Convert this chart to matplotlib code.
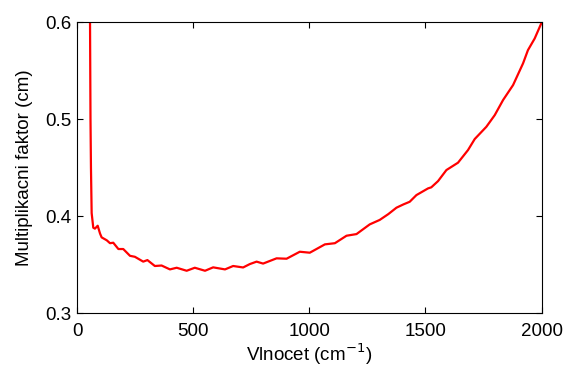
import matplotlib
matplotlib.use("Agg")
import matplotlib.pyplot as plt

# hodnoty
vlnocet = [56, 58, 60, 63, 70, 77, 89, 99, 106, 128, 142, 156, 178, 199, 228, 249,
           285, 303, 335, 364, 400, 429, 472, 507, 551, 586, 637, 672, 715, 744,
           773, 801, 859, 902, 959, 1002, 1067, 1110, 1160, 1203, 1260, 1303, 1340,
           1375, 1405, 1432, 1461, 1511, 1525, 1554, 1590, 1640, 1683, 1712, 1762,
           1798, 1834, 1877, 1920, 1941, 1970, 2001]
faktor = [0.600, 0.50, 0.45, 0.403, 0.388, 0.387, 0.390, 0.382, 0.378, 0.375, 0.372,
          0.3725, 0.366, 0.366, 0.359, 0.358, 0.353, 0.3546, 0.3485, 0.349, 0.345,
          0.3467, 0.3436, 0.3467, 0.3436, 0.3471, 0.345, 0.3485, 0.347, 0.3505,
          0.353, 0.351, 0.3564, 0.356, 0.3632, 0.3622, 0.3708, 0.372, 0.3797,
          0.3814, 0.3914, 0.396, 0.402, 0.4086, 0.412, 0.4147, 0.4216, 0.4285,
          0.4296, 0.436, 0.4474, 0.455, 0.468, 0.4794, 0.492, 0.504, 0.5196,
          0.535, 0.5574, 0.571, 0.583, 0.600]

plt.rcParams['font.family'] = ['Liberation Sans', 'DejaVu Sans']

fig = plt.figure(figsize=(5.68, 3.67), dpi=100)
ax = fig.add_axes([0.1356, 0.147, 0.818, 0.793])
ax.plot(vlnocet, faktor, color='red', linewidth=1.6)
ax.set_xlim(0, 2000)
ax.set_ylim(0.3, 0.6)
ax.set_xticks([0, 500, 1000, 1500, 2000])
ax.set_yticks([0.3, 0.4, 0.5, 0.6])
ax.tick_params(direction='in', top=True, right=True, labelsize=13.5, length=4)
ax.tick_params(axis='x', pad=7)
ax.tick_params(axis='y', pad=4)
ax.set_xlabel('Vlnocet (cm$^{-1}$)', fontsize=13.5, labelpad=1.5)
ax.set_ylabel('Multiplikacni faktor (cm)', fontsize=13.5, labelpad=9)

fig.savefig('out.png', dpi=100)
